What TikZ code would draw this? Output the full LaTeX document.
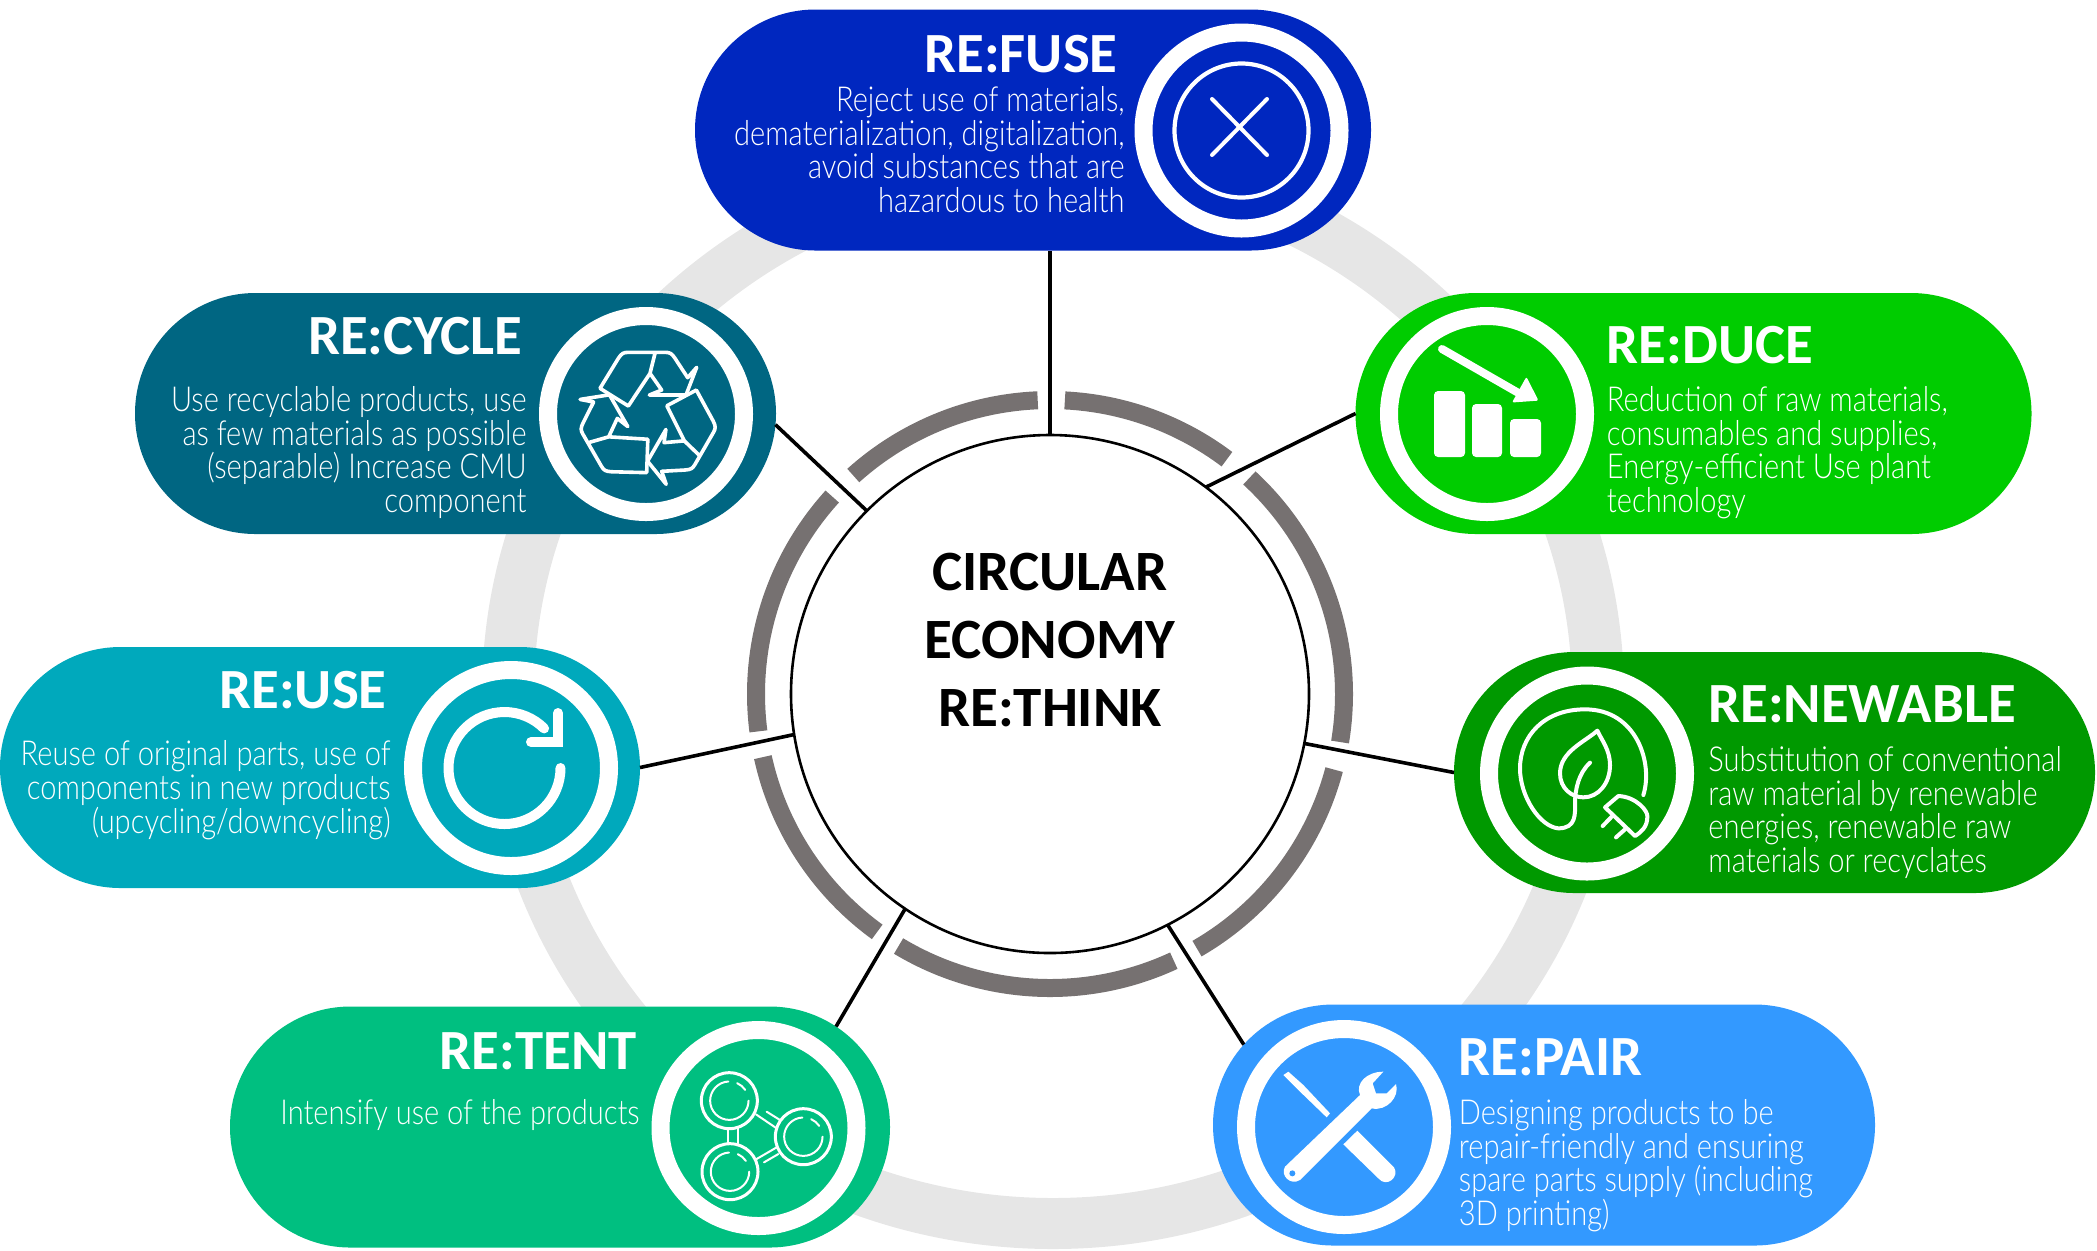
\documentclass[tikz,border=0pt]{standalone}
\usepackage{fontspec}
\setmainfont{Carlito}
\newfontfamily\bodyfont[FakeStretch=0.845]{Lato Light}
\usetikzlibrary{shapes.misc}
\definecolor{ringgray}{HTML}{E6E6E6}
\definecolor{arcgray}{HTML}{767171}
\definecolor{refusecol}{HTML}{0027BF}
\definecolor{reducecol}{HTML}{00CC00}
\definecolor{renewcol}{HTML}{009900}
\definecolor{repaircol}{HTML}{3399FF}
\definecolor{retentcol}{HTML}{00BF80}
\definecolor{reusecol}{HTML}{00A9BC}
\definecolor{recyclecol}{HTML}{006682}
\tikzset{
  pill/.style={rounded rectangle, minimum height=120.5pt, inner sep=0pt, outer sep=0pt},
  badge/.style={circle, draw=white, line width=9pt, minimum size=98pt, inner sep=0pt, outer sep=0pt},
  hubnode/.style={circle, draw=black, fill=white, line width=1.3pt, minimum size=259pt, inner sep=0pt, outer sep=0pt},
  hubtext/.style={anchor=base, align=center, font=\fontsize{28.5}{34}\selectfont\bfseries},
  linkline/.style={black, line width=1.8pt},
  arcseg/.style={arcgray, line width=9pt},
  titlel/.style={anchor=base west, inner sep=0pt, white, font=\fontsize{28.4}{30}\selectfont\bfseries},
  titler/.style={anchor=base east, inner sep=0pt, white, font=\fontsize{28.4}{30}\selectfont\bfseries},
  bodyl/.style={anchor=base west, inner sep=0pt, white, align=left, font=\bodyfont\fontsize{17.2}{16.85}\selectfont},
  bodyr/.style={anchor=base east, inner sep=0pt, white, align=right, font=\bodyfont\fontsize{17.2}{16.85}\selectfont},
  iconline/.style={white, line width=2pt, line join=round, line cap=round},
  iconzoom/.style={x=0.16667pt, y=-0.16667pt},
}
\begin{document}
\begin{tikzpicture}[x=0.5pt,y=-0.5pt]
    \useasboundingbox (0,0) rectangle (2097,1250);
    % wide ring behind the pills
    \fill[ringgray, even odd rule] (1053,694) ellipse [x radius=571, y radius=555]
        (1053,694) ellipse [x radius=519, y radius=504];

    % hub and the segments round it
    \node[hubnode] (hub) at (1050,694) {};
    \foreach \a/\b in {92.4/132, 87.1/53, 47.3/-9.4, -14.9/-60, -65.1/-121, 234/192.4, 187.3/137.8}
        \draw[arcseg, shift={(hub.center)}] (\a:147pt) arc[start angle=\a, end angle=\b, radius=147pt];
    \node[hubtext] (hublabel) at (1050,726) {CIRCULAR\\ECONOMY\\RE:THINK};

    % pills
    \node[pill, fill=refusecol, minimum width=338pt] (refuse) at (1033,130) {};
    \node[pill, fill=reducecol, minimum width=338pt] (reduce) at (1693.5,413.5) {};
    \node[pill, fill=renewcol, minimum width=320.5pt] (renew) at (1774.5,772.5) {};
    \node[pill, fill=repaircol, minimum width=331pt] (repair) at (1544,1125) {};
    \node[pill, fill=retentcol, minimum width=330pt] (retent) at (560,1127) {};
    \node[pill, fill=reusecol, minimum width=320pt] (reuse) at (320,767.5) {};
    \node[pill, fill=recyclecol, minimum width=320.5pt] (recycle) at (455.5,413.5) {};

    % spokes
    \draw[linkline] (hub.north) -- (hub.north |- refuse.south);
    \draw[linkline] (hub.53.4) -- (reduce.west);
    \draw[linkline] (hub.-11.3) -- (renew.west);
    \draw[linkline] (hub.-63) -- (repair.165.6);
    \draw[linkline] (hub.236.5) -- (retent.20.3);
    \draw[linkline] (hub.189.8) -- (reuse.east);
    \draw[linkline] (hub.135) -- (recycle.-2.8);

    % badges
    \node[badge] (refusebadge) at (1241.5,130.5) {};
    \node[badge] (reducebadge) at (1487,414) {};
    \node[badge] (renewbadge) at (1587,773.5) {};
    \node[badge] (repairbadge) at (1344,1127) {};
    \node[badge] (retentbadge) at (758.5,1128) {};
    \node[badge] (reusebadge) at (511,768) {};
    \node[badge] (recyclebadge) at (646,414) {};

    % titles and texts
    \node[titler] (refusetitle) at (1118,72) {RE:FUSE};
    \node[bodyr] (refusebody) at (1125,212.5) {Reject use of materials,\\dematerialization, digitalization,\\avoid substances that are\\hazardous to health};
    \node[titlel] (reducetitle) at (1606.5,363) {RE:DUCE};
    \node[bodyl] (reducebody) at (1606.5,512.5) {Reduction of raw materials,\\consumables and supplies,\\Energy-efficient Use plant\\technology};
    \node[titlel] (renewtitle) at (1708,722) {RE:NEWABLE};
    \node[bodyl] (renewbody) at (1708,872.5) {Substitution of conventional\\raw material by renewable\\energies, renewable raw\\materials or recyclates};
    \node[titlel] (repairtitle) at (1458.5,1075.7) {RE:PAIR};
    \node[bodyl] (repairbody) at (1458.5,1225.5) {Designing products to be\\repair-friendly and ensuring\\spare parts supply (including\\3D printing)};
    \node[titler] (retenttitle) at (637,1069.3) {RE:TENT};
    \node[bodyr] (retentbody) at (640,1124) {Intensify use of the products};
    \node[titler] (reusetitle) at (387,708) {RE:USE};
    \node[bodyr] (reusebody) at (391,833) {Reuse of original parts, use of\\components in new products\\(upcycling/downcycling)};
    \node[titler] (recycletitle) at (523,354) {RE:CYCLE};
    \node[bodyr] (recyclebody) at (527,512.5) {Use recyclable products, use\\as few materials as possible\\(separable) Increase CMU\\component};

    % refuse icon
    \draw[iconline, line width=2.1pt] (refusebadge) circle [radius=67];
    \draw[iconline] (1212,99) -- (1267,155);
    \draw[iconline] (1267,99) -- (1212,155);

    % reduce icon
    \fill[white, rounded corners=2pt] (1434,391) rectangle (1465,457);
    \fill[white, rounded corners=2pt] (1472,404) rectangle (1502,457);
    \fill[white, rounded corners=2pt] (1510,419) rectangle (1541,457);
    \draw[white, line width=4pt, line cap=round] (1442,349) -- (1522,395);
    \fill[white, rounded corners=1pt] (1538.5,400.6) -- (1526.4,376.8) -- (1512,402.5) -- cycle;

    % renewable icon
    \begin{scope}[shift={(1510,700)}, iconzoom]
      \draw[iconline] (400,285) .. controls (430,190) and (380,28) .. (225,28)
          .. controls (100,28) and (30,110) .. (30,205)
          .. controls (30,290) and (90,380) .. (145,385)
          .. controls (200,385) and (195,340) .. (195,310)
          .. controls (195,270) and (205,220) .. (240,188);
      \draw[iconline] (262,92) .. controls (225,125) and (150,155) .. (150,220)
          .. controls (150,265) and (185,292) .. (220,292)
          .. controls (265,292) and (300,250) .. (300,195)
          .. controls (300,150) and (275,120) .. (262,92) -- cycle;
      \draw[iconline] (285,322) -- (325,288) .. controls (380,290) and (415,335) .. (412,350)
          .. controls (412,380) and (395,395) .. (375,408) -- cycle;
      \draw[iconline] (305,350) -- (278,378);
      \draw[iconline] (345,388) -- (318,412);
    \end{scope}

    % repair icon
    \begin{scope}[shift={(1270,1060)}, iconzoom]
      \fill[white] (45,320) -- (270,105) .. controls (255,70) and (290,35) .. (340,35)
          -- (308,70) -- (318,100) -- (350,100) -- (378,72)
          .. controls (390,110) and (350,155) .. (305,145) -- (90,360)
          .. controls (60,378) and (30,345) .. (45,320) -- cycle;
      \fill[repaircol] (67,340) circle [radius=9];
      \fill[white] (40,45) -- (55,35) -- (100,75) -- (180,160) -- (170,172) -- (85,90) -- cycle;
      \fill[white] (262,212) -- (372,322) .. controls (390,350) and (350,385) .. (325,355)
          -- (220,253) -- cycle;
    \end{scope}

    % retent icon
    \begin{scope}[shift={(685,1060)}, iconzoom]
      \foreach \cx/\cy in {133/122, 135/335, 355/230} {
        \draw[iconline, line width=1.5pt] (\cx,\cy) circle [radius=84];
        \draw[iconline, line width=1pt] (\cx,\cy) ++(0:9.6pt) arc[start angle=0, end angle=-267, radius=9.6pt];
        \draw[iconline, line width=1pt] (\cx,\cy) ++(66:9.6pt) arc[start angle=66, end angle=34, radius=9.6pt];
      }
      \draw[iconline, line width=1pt] (130,205) -- (130,250);
      \draw[iconline, line width=1pt] (158,205) -- (158,250);
      \draw[iconline, line width=1pt] (213,163) -- (275,205);
      \draw[iconline, line width=1pt] (245,155) -- (285,180);
      \draw[iconline, line width=1pt] (213,298) -- (275,262);
      \draw[iconline, line width=1pt] (237,307) -- (280,282);
    \end{scope}

    % reuse icon
    \draw[white, line width=5pt, line cap=round] (504.5,768) ++(0:28pt) arc[start angle=0, end angle=-315, radius=28pt];
    \draw[white, line width=5pt, line cap=round] (558,713) -- (558,742) -- (531,742);

    % recycle icon
    \begin{scope}[shift={(560,335)}, iconzoom]
      \foreach \a in {0,120,240} {
        \draw[iconline, line width=1.8pt, rotate around={\a:(263,246)}]
            (120,160) -- (175,70) .. controls (185,55) and (190,52) .. (205,52) -- (315,52)
            .. controls (330,52) and (335,55) .. (345,70) -- (383,128) -- (410,97) -- (378,180)
            -- (268,180) -- (305,165) -- (270,115) -- (205,213) -- cycle
            (285,55) -- (270,115);
      }
    \end{scope}
\end{tikzpicture}
\end{document}
